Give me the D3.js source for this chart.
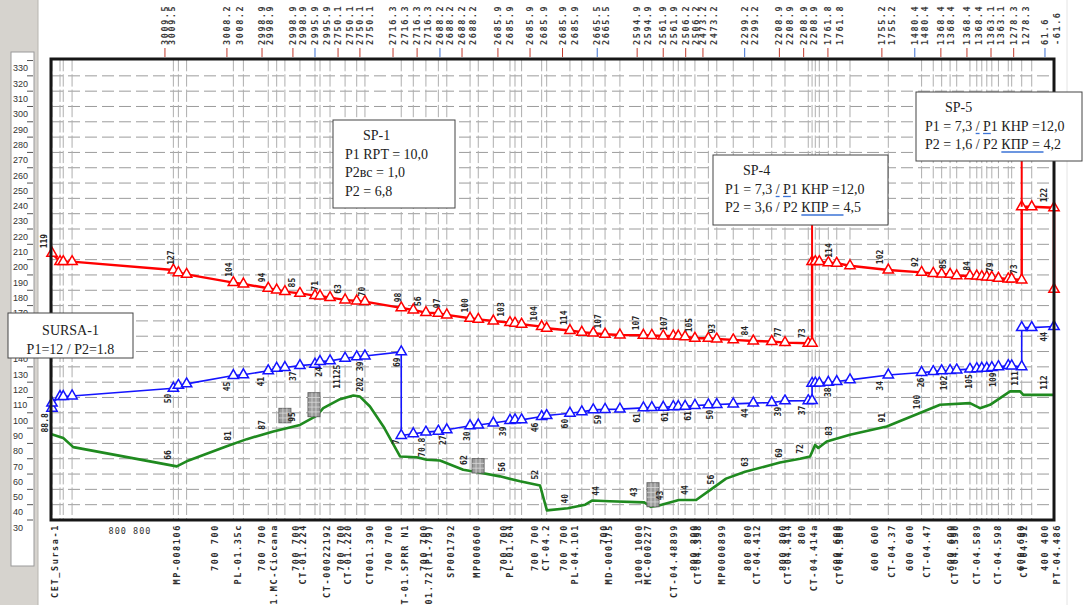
<!DOCTYPE html>
<html>
<head>
<meta charset="utf-8">
<script src="https://cdn.jsdelivr.net/npm/d3@7"></script>
<style>
  body { margin: 0; background: #fff; }
  svg { display: block; }
</style>
</head>
<body>
<svg id="chart" width="1084" height="605"></svg>
<script>
// ---- Hydraulic profile: pressure lines (red / blue) and ground elevation (green) ----
// Distance along the route in km, levels in the units of the left scale.

const redKm = [0.5,4.5,6.1,10.5,61.0,63.5,67.6,90.9,95.9,108.3,112.5,116.6,124.1,131.6,134.1,139.1,146.6,152.4,156.5,174.6,180.6,186.9,193.1,197.3,208.9,213.0,220.5,228.8,231.3,234.6,244.6,247.1,258.7,264.6,270.3,276.2,283.6,295.3,299.5,305.2,310.2,312.7,316.1,321.0,327.7,331.9,340.1,350.1,359.3,365.9,377.5,379.4,379.4,381.0,383.0,387.5,391.7,398.3,417.4,434.0,439.8,444.0,448.2,451.5,458.1,461.5,464.0,466.5,469.0,472.3,477.2,478.9,483.9,483.9,488.9,500,500];
const redLevel = [209.1,203.7,203.7,203.7,198.2,196.5,195.4,190.0,189.1,186.3,185.2,184.1,183.0,181.5,181.3,180.2,178.7,178.0,177.6,173.5,172.1,170.4,170.0,168.9,166.7,166.0,164.9,163.9,163.5,162.8,161.3,160.2,158.7,157.6,157.0,156.3,155.8,155.6,155.5,155.2,155.2,155.1,154.7,153.7,153.7,153.2,152.6,151.9,151.5,150.8,150.4,150.4,203.7,203.7,203.7,203.0,202.6,201.0,198.2,196.7,196.0,195.6,195.4,194.5,194.5,194.3,193.9,193.7,193.5,192.8,192.4,192.4,191.7,239.5,239.5,238.9,185.6];

const blueKm = [0.5,0.5,4.5,6.1,10.5,61.0,63.5,67.6,90.9,95.9,108.3,112.5,116.6,124.1,131.6,134.1,139.1,146.6,152.4,156.5,174.6,174.6,180.6,186.9,193.1,197.3,208.9,213.0,220.5,228.8,231.3,234.6,244.6,247.1,258.7,264.6,270.3,276.2,283.6,295.3,299.5,305.2,310.2,312.7,316.1,321.0,327.7,331.9,340.1,350.1,359.3,365.9,377.5,379.4,379.4,381.0,383.0,387.5,391.7,398.3,417.4,434.0,439.8,444.0,448.2,451.5,458.1,461.5,464.0,466.5,469.0,472.3,477.2,478.9,483.9,483.9,488.9,500];
const blueLevel = [108.0,111.3,115.6,115.6,116.0,121.0,122.9,123.9,129.3,129.8,132.4,134.1,134.6,135.8,136.7,138.5,138.9,140.6,141.5,142.1,144.8,90.2,91.3,92.4,93.0,93.9,96.5,97.0,98.3,100.0,100.4,100.4,102.6,103.2,104.7,105.6,106.9,107.2,107.4,108.2,108.4,108.6,109.0,109.1,109.2,109.8,110.2,110.4,110.8,111.3,111.7,112.8,112.9,113.0,124.2,124.4,124.4,124.9,125.4,126.5,129.7,131.3,131.9,132.4,132.6,133.0,133.5,133.8,134.1,134.1,134.5,135.1,135.8,135.6,135.1,160.6,160.6,161.3];

const greenKm = [0.3,6.1,11.1,62.7,67.6,87.6,97.6,110.8,124.1,132.5,135.7,144.1,150.7,154.0,159.0,165.7,174.0,182.3,187.3,193.9,205.5,211.4,223.8,233.8,243.8,247.2,257.6,266.3,269.7,278.4,295.7,299.1,302.6,313.0,321.6,328.5,332.0,336.5,346.0,363.4,373.4,378.4,380.9,382.5,386.7,398.3,416.6,443.2,458.1,463.1,468.1,478.1,483.1,484.7,500];
const greenLevel = [91,88.5,82.6,70,73.3,83.2,87.8,92.8,97.1,103.1,108,113.9,116.3,115.6,109.1,96.1,76.5,76,74.3,73.8,67.8,66.5,63.5,60.3,57.5,41.3,42.7,45,47.7,47.2,46.5,43.6,44.3,48.1,48.1,54.5,57.8,62,66.5,72.5,75,76.5,84,82,86.3,90.6,96.1,110.2,111.3,108,110.2,119,119,116.7,116.7];

// numeric tags printed along each line: [km, text]
const redTags = [[-3.5,"119"],[59.8,"127"],[88.7,"104"],[105.2,"94"],[120.1,"85"],[131.6,"71"],[143.1,"63"],[155.0,"70"],[173.0,"98"],[182.9,"56"],[192.4,"97"],[206.4,"100"],[224.3,"103"],[240.8,"104"],[255.7,"114"],[272.7,"107"],[291.6,"107"],[305.6,"107"],[318.0,"105"],[329.5,"93"],[346.0,"84"],[362.4,"77"],[374.4,"73"],[387.8,"114"],[413.3,"102"],[430.7,"92"],[444.7,"85"],[456.6,"84"],[468.1,"79"],[480.1,"73"],[495.0,"122"]];
const blueTags = [[-3,"88.8"],[58.3,"50"],[87.7,"45"],[104.7,"41"],[120.6,"37"],[133.6,"24"],[142.6,"11125"],[154.0,"39"],[172.5,"69"],[184.9,"70.8"],[195.4,"27"],[207.4,"30"],[225.3,"39"],[241.3,"46"],[256.2,"60"],[272.7,"59"],[292.1,"61"],[306.1,"61"],[317.5,"61"],[328.5,"50"],[346.0,"44"],[362.4,"39"],[374.4,"37"],[387.3,"38"],[413.3,"34"],[433.7,"26"],[445.2,"102"],[457.6,"105"],[469.6,"109"],[480.6,"111"],[495.0,"44"]];
const greenTags = [[58.3,"66"],[88.2,"81"],[105.2,"87"],[120.1,"95"],[154.0,"202"],[172.0,"7"],[205.9,"62"],[224.8,"56"],[241.3,"52"],[256.2,"40"],[271.7,"44"],[290.6,"43"],[303.6,"43"],[316.1,"44"],[329.0,"56"],[346.0,"63"],[362.9,"69"],[373.4,"72"],[387.8,"83"],[414.3,"91"],[431.7,"100"],[495.0,"112"]];

// chainage marks above the frame
const topKm = [56.8,60.3,87.7,94.2,105.2,109.2,120.6,125.6,131.6,137.6,143.1,149.1,154.0,159.0,170.5,176.5,182.5,187.9,193.9,198.9,204.9,210.4,222.8,228.8,238.8,246.0,255.0,261.1,272.3,276.7,292.2,297.4,305.2,310.4,316.4,321.6,325.0,330.3,345.8,351.0,363.1,368.3,375.2,380.4,387.3,393.4,414.2,419.3,430.6,435.7,443.6,448.8,456.6,462.6,468.6,473.8,479.9,485.9,495.5,501.5];
const topText = ["3009.5","3009.5","3008.2","3008.2","2998.9","2998.9","2998.9","2998.9","2995.9","2995.9","2750.1","2750.1","2750.1","2750.1","2716.3","2716.3","2716.3","2716.3","2688.2","2688.2","2688.2","2688.2","2685.9","2685.9","2685.9","2685.9","2685.9","2685.9","2665.5","2665.5","2594.9","2594.9","2561.9","2561.9","2506.2","2506.2","2473.2","2473.2","2299.2","2299.2","2208.9","2208.9","2208.9","2208.9","1761.8","1761.8","1755.2","1755.2","1480.4","1480.4","1368.4","1368.4","1368.4","1368.4","1363.1","1363.1","1278.3","1278.3","61.6","-61.6"];

// object names and pipe diameters below the frame
const bottomKm = [2.0,62.8,81.8,93.2,105.2,111.2,122.1,125.6,137.6,144.6,148.1,159.0,168.5,176.5,185.9,188.4,199.4,212.4,225.8,228.8,241.3,246.8,255.7,261.2,275.7,278.2,293.1,297.6,310.6,320.5,322.5,334.5,347.5,351.9,364.9,367.4,374.4,380.4,391.8,393.3,410.8,419.2,428.2,436.7,448.7,450.6,461.6,472.1,483.5,485.0,495.5,501.5];
const bottomText = ["CET_Sursa-1","MP-008106","700    700","PL-01.35c","700    700","1.MC-Ciocana","700    700","CT-01.224","CT-00022192","700   700","CT-01.220","CT001.390","700    700","T-01.SPRR N1","700    700","01.72(P1-79)","SP001792","MP000600","700    700","PL-01.64","700    700","CT-04.2","700    700","PL-04.101","700","MD-000175","1000   1000","MC-000227","CT-04.48899","800   800","CT-04.398","MP0000899","800    800","CT-04.412","800    800","CT-04.414","800","CT-04.414a","600    600","CT-04.500","600    600","CT-04.37","600    600","CT-04.47","600    600","CT-04.590","CT-04.589","CT-04.598","600    600","CT-04.92","400    400","PT-04.486"];

// valve symbols: [km, level, rows]
const valves = [[116.6,103.2,3],[131.1,110.3,5],[212.9,70.4,3],[300.1,51.5,5]];

// left scale
const scaleTicks = d3.range(30, 331, 10);

// pumping station notes
const notes = [
  { lines: ["SURSA-1", "P1=12 / P2=1.8"], box: [8, 313, 125, 45], align: "middle", station: null },
  { lines: ["SP-1", "P1 RPT = 10,0", "P2вс = 1,0", "P2 = 6,8"], box: [333, 120, 122, 88], align: "start", indent: [30, 12, 12, 12], station: null },
  { lines: ["SP-4", "P1 = 7,3 / P1 КНР =12,0", "P2 = 3,6 / P2 КПР  = 4,5"], box: [713, 155, 175, 70], align: "start", indent: [30, 12, 12],
    marks: [[1, 9, 1], [1, 11, 1], [2, 14, 6]], station: [379.4, 203.7] },
  { lines: ["SP-5", "P1 = 7,3 / P1 КНР =12,0", "P2 = 1,6 / P2 КПР  = 4,2"], box: [916, 92, 166, 69], align: "start", indent: [29, 9, 9],
    marks: [[1, 9, 1], [1, 11, 1], [2, 14, 6]], station: [483.9, 239.5] }
];

// ---------------------------------------------------------------
const svg = d3.select("#chart");
const frame = { left: 51, right: 1054, top: 59, bottom: 520 };
const x = d3.scaleLinear().domain([0, 500]).range([frame.left, frame.right]);
const y = d3.scaleLinear().domain([35, 336]).range([frame.bottom, frame.top]);

const zip = (a, b) => a.map((d, i) => [d, b[i]]);
const redPts = zip(redKm, redLevel);
const bluePts = zip(blueKm, blueLevel);
const greenPts = zip(greenKm, greenLevel);
const stationKm = Array.from(new Set(redKm.concat(blueKm))).sort(d3.ascending);

function levelAt(pts, km) {
  if (km <= pts[0][0]) return pts[0][1];
  for (let i = 1; i < pts.length; i++) {
    if (pts[i][0] >= km) {
      const a = pts[i - 1], b = pts[i];
      if (b[0] === a[0]) return b[1];
      return a[1] + (b[1] - a[1]) * (km - a[0]) / (b[0] - a[0]);
    }
  }
  return pts[pts.length - 1][1];
}

// left scale panel
svg.append("rect").attr("x", 0).attr("y", 0).attr("width", 38).attr("height", 605).attr("fill", "#d6d3ce");
svg.append("rect").attr("x", 11).attr("y", 52).attr("width", 23).attr("height", 514)
  .attr("fill", "#fff").attr("stroke", "#9a9a9a");
svg.append("line").attr("x1", 38).attr("x2", 38).attr("y1", 0).attr("y2", 605).attr("stroke", "#b8b5b0");
const scaleG = svg.append("g");
scaleG.selectAll("text").data(scaleTicks).join("text")
  .attr("x", 13).attr("y", d => y(d)).attr("dy", "0.35em")
  .attr("font-family", "Liberation Sans, Arial, sans-serif").attr("font-size", 9).attr("fill", "#333")
  .text(d => d);
scaleG.selectAll("line").data(d3.range(35, 336, 10)).join("line")
  .attr("x1", 27).attr("x2", 33).attr("y1", d => y(d)).attr("y2", d => y(d))
  .attr("stroke", "#555").attr("stroke-width", 1);

// faint outer edge on the right
svg.append("line").attr("x1", 1067).attr("x2", 1067).attr("y1", 0).attr("y2", 605).attr("stroke", "#e4e4e4");

// grid
const grid = svg.append("g");
grid.selectAll("line.h").data(d3.range(45, 330, 10)).join("line").attr("class", "h")
  .attr("x1", frame.left).attr("x2", frame.right)
  .attr("y1", d => y(d)).attr("y2", d => y(d))
  .attr("stroke", "#9c9c9c").attr("stroke-width", 1).attr("stroke-dasharray", "12,5");
grid.selectAll("line.v").data(stationKm).join("line").attr("class", "v")
  .attr("x1", d => x(d)).attr("x2", d => x(d))
  .attr("y1", frame.top).attr("y2", frame.bottom)
  .attr("stroke", "#aeaeae").attr("stroke-width", 1).attr("stroke-dasharray", "12.3,3");

// chainage labels on top
const monoFont = "DejaVu Sans Mono, monospace";
const topG = svg.append("g");
topG.selectAll("text").data(topKm).join("text")
  .attr("transform", d => `translate(${x(d)},45) rotate(-90)`)
  .attr("dy", "0.35em").attr("text-anchor", "start")
  .attr("font-family", monoFont).attr("font-weight", "bold").attr("font-size", 8.5)
  .attr("letter-spacing", 1.6).attr("fill", "#3a3a3a")
  .text((d, i) => topText[i]);
topG.selectAll("line").data(topKm.filter((d, i) => i % 2 === 0)).join("line")
  .attr("x1", d => x(d)).attr("x2", d => x(d)).attr("y1", 48).attr("y2", 57)
  .attr("stroke", (d, i) => i % 5 === 4 ? "#3b6fd1" : "#c0392b").attr("stroke-width", 1);

// names / diameters under the frame
const botG = svg.append("g");
botG.selectAll("text").data(bottomKm).join("text")
  .attr("transform", d => `translate(${x(d)},524) rotate(-90)`)
  .attr("dy", "0.35em").attr("text-anchor", "end")
  .attr("font-family", monoFont).attr("font-weight", "bold").attr("font-size", 8.5)
  .attr("letter-spacing", 1.6).attr("fill", "#2a2a2a")
  .text((d, i) => bottomText[i]);
botG.append("text").attr("x", x(39.4)).attr("y", 534).attr("text-anchor", "middle")
  .attr("font-family", monoFont).attr("font-size", 8.5).attr("letter-spacing", 1).attr("fill", "#333")
  .text("800  800");

// lines
const line = d3.line().x(d => x(d[0])).y(d => y(d[1]));
svg.append("path").datum(greenPts).attr("d", line).attr("fill", "none")
  .attr("stroke", "#1f8a1f").attr("stroke-width", 2.6).attr("stroke-linejoin", "round");
svg.append("path").datum(bluePts).attr("d", line).attr("fill", "none")
  .attr("stroke", "#1414ff").attr("stroke-width", 1.6);
svg.append("path").datum(redPts).attr("d", line).attr("fill", "none")
  .attr("stroke", "#ff0000").attr("stroke-width", 2.4);

// triangle markers
const tri = d3.symbol().type(d3.symbolTriangle).size(46);
function markers(pts, color) {
  svg.append("g").selectAll("path").data(pts).join("path")
    .attr("d", tri).attr("transform", d => `translate(${x(d[0])},${y(d[1])})`)
    .attr("fill", "#fff").attr("stroke", color).attr("stroke-width", 1.5);
}
markers(bluePts, "#1414ff");
markers(redPts, "#ff0000");

// valve symbols
const valveG = svg.append("g");
valves.forEach(([km, lvl, rows]) => {
  const w = 12, h = rows * 4.8, cx = x(km), cy = y(lvl);
  const g = valveG.append("g").attr("transform", `translate(${cx - w / 2},${cy - h / 2})`);
  g.append("rect").attr("width", w).attr("height", h).attr("fill", "#9c9c9c").attr("stroke", "#666");
  for (let c = 1; c < 3; c++) g.append("line").attr("x1", c * w / 3).attr("x2", c * w / 3).attr("y1", 0).attr("y2", h).attr("stroke", "#d9d9d9").attr("stroke-width", 0.8);
  for (let r = 1; r < rows; r++) g.append("line").attr("x1", 0).attr("x2", w).attr("y1", r * h / rows).attr("y2", r * h / rows).attr("stroke", "#d9d9d9").attr("stroke-width", 0.8);
});

// numeric tags along the lines
function tags(list, pts, side) {
  svg.append("g").selectAll("text").data(list).join("text")
    .attr("transform", d => {
      const py = y(levelAt(pts, d[0])) + (side === "above" ? -5 : 5);
      return `translate(${x(d[0])},${py}) rotate(-90)`;
    })
    .attr("dy", "0.35em").attr("text-anchor", side === "above" ? "start" : "end")
    .attr("font-family", monoFont).attr("font-weight", "bold").attr("font-size", 8)
    .attr("fill", "#262626").text(d => d[1]);
}
tags(redTags, redPts, "above");
tags(blueTags, bluePts, "below");
tags(greenTags, greenPts, "above");

// frame
svg.append("rect").attr("x", frame.left).attr("y", frame.top)
  .attr("width", frame.right - frame.left).attr("height", frame.bottom - frame.top)
  .attr("fill", "none").attr("stroke", "#161616").attr("stroke-width", 3);

// station notes with leader lines
notes.forEach(n => {
  const [bx, by, bw, bh] = n.box;
  if (n.station) {
    svg.append("line").attr("x1", x(n.station[0])).attr("x2", x(n.station[0]))
      .attr("y1", by + bh).attr("y2", y(n.station[1]))
      .attr("stroke", "#ff0000").attr("stroke-width", 2);
  }
  const g = svg.append("g");
  g.append("rect").attr("x", bx).attr("y", by).attr("width", bw).attr("height", bh)
    .attr("fill", "#fff").attr("stroke", "#444").attr("stroke-width", 1);
  const lh = n.lines.length === 2 ? 19 : 18.5;
  const top = n.lines.length === 2 ? by + 22 : by + 20;
  n.lines.forEach((t, i) => {
    const tx = n.align === "middle" ? bx + bw / 2 : bx + n.indent[i];
    const te = g.append("text").attr("x", tx).attr("y", top + i * lh)
      .attr("text-anchor", n.align)
      .attr("font-family", "Liberation Serif, Times New Roman, serif").attr("font-size", 14)
      .attr("fill", "#222").text(t);
    (n.marks || []).filter(m => m[0] === i).forEach(m => {
      const node = te.node();
      const x0 = node.getStartPositionOfChar(m[1]).x;
      const x1 = node.getEndPositionOfChar(m[1] + m[2] - 1).x;
      g.append("line").attr("x1", x0).attr("x2", x1)
        .attr("y1", top + i * lh + 3).attr("y2", top + i * lh + 3)
        .attr("stroke", "#3b73d6").attr("stroke-width", 1.3);
    });
  });
});
</script>
</body>
</html>
